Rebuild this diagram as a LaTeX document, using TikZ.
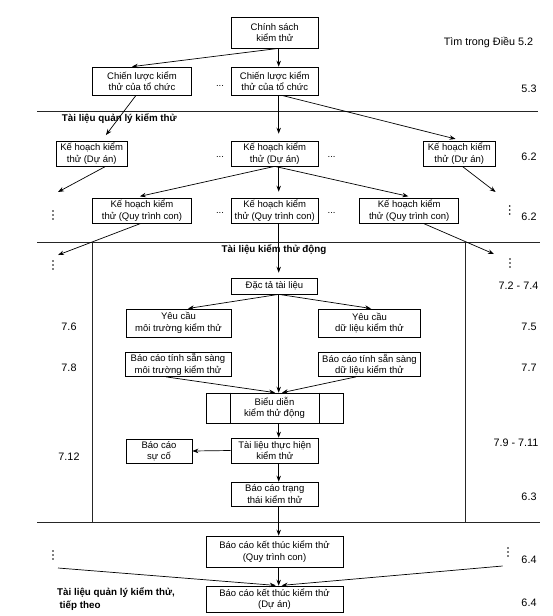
\documentclass[tikz,border=0pt]{standalone}
\usepackage{fontspec}
\setmainfont{Liberation Sans}
\usetikzlibrary{arrows.meta}
\begin{document}
\begin{tikzpicture}[x=1pt,y=-1pt,
  box/.style={draw, line width=0.7pt, align=center, inner sep=1pt, font=\fontsize{9.5}{11.5}\selectfont},
  arr/.style={-{Stealth[length=6pt,width=4.5pt]}, line width=0.7pt},
  divline/.style={line width=1pt, draw=black!85},
  refl/.style={font=\fontsize{10.8}{12}\selectfont, inner sep=0pt},
  hdr/.style={font=\bfseries\fontsize{9.8}{13}\selectfont, inner sep=0pt},
  ellip/.style={font=\fontsize{9.5}{11}\selectfont, inner sep=0pt}]
\useasboundingbox (0,0) rectangle (553,616);

% divider lines and frame
\draw[divline] (37,111) -- (538,111);
\draw[divline] (37,242) -- (540,242);
\draw[divline] (37,522) -- (540,522);
\draw[divline] (92.4,242) -- (92.4,522);
\draw[divline] (465,242) -- (465,522);

% boxes
\node[box, minimum width=87.5pt, minimum height=31pt] (cs) at (274.75,32.5) {Chính sách\\kiểm thử};
\node[box, minimum width=99pt, minimum height=28pt] (cl1) at (142,81) {Chiến lược kiểm\\thử của tổ chức};
\node[box, minimum width=87.5pt, minimum height=28pt] (cl2) at (274.75,81) {Chiến lược kiểm\\thử của tổ chức};
\node[box, minimum width=70.6pt, minimum height=25pt] (kh1) at (91.7,153.5) {Kế hoạch kiểm\\thử (Dự án)};
\node[box, minimum width=87.5pt, minimum height=25pt] (kh2) at (274.75,153.5) {Kế hoạch kiểm\\thử (Dự án)};
\node[box, minimum width=72.6pt, minimum height=25pt] (kh3) at (459.3,153.5) {Kế hoạch kiểm\\thử (Dự án)};
\node[box, minimum width=99pt, minimum height=25pt] (qt1) at (142,210.5) {Kế hoạch kiểm\\thử (Quy trình con)};
\node[box, minimum width=87.5pt, minimum height=25pt] (qt2) at (274.75,210.5) {Kế hoạch kiểm\\thử (Quy trình con)};
\node[box, minimum width=98.8pt, minimum height=25pt] (qt3) at (409.2,210.5) {Kế hoạch kiểm\\thử (Quy trình con)};
\node[box, minimum width=86.5pt, minimum height=16pt] (dt) at (274.5,286) {Đặc tả tài liệu};
\node[box, minimum width=105pt, minimum height=28pt] (yc1) at (178.5,323) {Yêu cầu\\môi trường kiểm thử};
\node[box, minimum width=102pt, minimum height=28pt] (yc2) at (369.5,323) {Yêu cầu\\dữ liệu kiểm thử};
\node[box, minimum width=106pt, minimum height=24pt] (bc1) at (178,364.5) {Báo cáo tính sẵn sàng\\môi trường kiểm thử};
\node[box, minimum width=102pt, minimum height=24pt] (bc2) at (369.5,364.5) {Báo cáo tính sẵn sàng\\dữ liệu kiểm thử};
\node[box, minimum width=137pt, minimum height=30pt] (bd) at (274.5,408) {Biểu diễn\\kiểm thử động};
\draw[line width=0.7pt] ([xshift=24.5pt]bd.north west) -- ([xshift=24.5pt]bd.south west);
\draw[line width=0.7pt] ([xshift=-24.5pt]bd.north east) -- ([xshift=-24.5pt]bd.south east);
\node[box, minimum width=87.5pt, minimum height=25pt] (th) at (274.75,450.5) {Tài liệu thực hiện\\kiểm thử};
\node[box, minimum width=66pt, minimum height=24pt] (sc) at (159,451) {Báo cáo\\sự cố};
\node[box, minimum width=87.5pt, minimum height=24pt] (tt) at (274.75,494) {Báo cáo trạng\\thái kiểm thử};
\node[box, minimum width=137pt, minimum height=31pt] (kt1) at (274.5,551.5) {Báo cáo kết thúc kiểm thử\\(Quy trình con)};
\node[box, minimum width=137pt, minimum height=26pt] (kt2) at (274.5,599) {Báo cáo kết thúc kiểm thử\\(Dự án)};

% headers
\node[hdr, anchor=west] (h1) at (61.7,119) {Tài liệu quản lý kiểm thử};
\node[hdr] (h2) at (274,250) {Tài liệu kiểm thử động};
\node[hdr, anchor=north west, align=left] (h3) at (57,587) {Tài liệu quản lý kiểm thử,\\\hspace*{2.5pt}tiếp theo};

% clause references
\node[refl] (r1) at (488.5,42) {Tìm trong Điều 5.2};
\node[refl] (r2) at (529,89) {5.3};
\node[refl] (r3) at (529,157) {6.2};
\node[refl] (r4) at (529,217) {6.2};
\node[refl] (r5) at (518.5,286) {7.2 - 7.4};
\node[refl] (r6) at (69,327) {7.6};
\node[refl] (r7) at (529,327) {7.5};
\node[refl] (r8) at (69,368) {7.8};
\node[refl] (r9) at (529,368) {7.7};
\node[refl] (r10) at (69,457) {7.12};
\node[refl] (r11) at (516,443) {7.9 - 7.11};
\node[refl] (r12) at (529,497) {6.3};
\node[refl] (r13) at (529,560) {6.4};
\node[refl] (r14) at (529,603) {6.4};

% ellipses
\node[ellip] (e1) at (220,86) {...};
\node[ellip] (e2) at (220,157) {...};
\node[ellip] (e3) at (331.6,157) {...};
\node[ellip] (e4) at (220,213) {...};
\node[ellip] (e5) at (331.6,213) {...};

% vertical dots
\foreach \px/\py in {53/215, 53/265, 53/555, 509.7/210, 510/263, 508/552} {
  \foreach \d in {-4,0,4} {\fill (\px,\py+\d) circle[radius=0.9pt];}
}

% free ends
\coordinate (vx) at (278.7,0);
\coordinate (dl1) at (58,192);
\coordinate (dr1) at (495.6,192);
\coordinate (dl2) at (58,255);
\coordinate (dr2) at (494,254);
\coordinate (dl3) at (58,568);
\coordinate (dr3) at (502.6,566);

% connectors
\draw[arr] (cs.south -| vx) -- (cl2.north -| vx);
\draw[arr] (cs.south -| vx) -- ([xshift=-10pt]cl1.north);
\draw[arr, shorten >=7pt] ([xshift=-6pt]cl1.south) -- ([xshift=10pt]kh1.north);
\draw[arr, shorten >=7pt] (cl2.south -| vx) -- (kh2.north -| vx);
\draw[arr, shorten >=7pt] ([xshift=7pt]cl2.south) -- ([xshift=3pt]kh3.north);
\draw[arr] ([xshift=14pt]kh1.south) -- (dl1);
\draw[arr] ([xshift=3pt]kh3.south) -- (dr1);
\draw[arr, shorten >=6pt] (kh2.south) -- ([xshift=-8pt]qt1.north);
\draw[arr, shorten >=6pt] (kh2.south -| vx) -- (qt2.north -| vx);
\draw[arr, shorten >=6pt] (kh2.south) -- ([xshift=5pt]qt3.north);
\draw[arr] ([xshift=-1pt]qt1.south) -- (dl2);
\draw[arr] ([xshift=14pt]qt3.south) -- (dr2);
\draw[arr, shorten >=5pt] (qt2.south -| vx) -- (dt.north -| vx);
\draw[arr, shorten >=1pt] (dt.south -| vx) -- ([xshift=8.5pt]yc1.north);
\draw[arr, shorten >=1pt] (dt.south -| vx) -- ([xshift=2.5pt]yc2.north);
\draw[arr] (dt.south -| vx) -- (bd.north -| vx);
\draw[arr] ([xshift=-12pt]bc1.south) -- ([xshift=0.5pt]bd.north);
\draw[arr] ([xshift=-13.5pt]bc2.south) -- ([xshift=7.5pt]bd.north);
\draw[arr] (bd.south -| vx) -- (th.north -| vx);
\draw[arr] (th.west) -- (sc.east);
\draw[arr] (th.south -| vx) -- (tt.north -| vx);
\draw[arr] (tt.south -| vx) -- (kt1.north -| vx);
\draw[arr] (kt1.south -| vx) -- (kt2.north -| vx);
\draw[arr, shorten >=3pt] (dl3) -- (kt2.north -| vx);
\draw[arr, shorten >=3pt] (dr3) -- (kt2.north -| vx);
\end{tikzpicture}
\end{document}
